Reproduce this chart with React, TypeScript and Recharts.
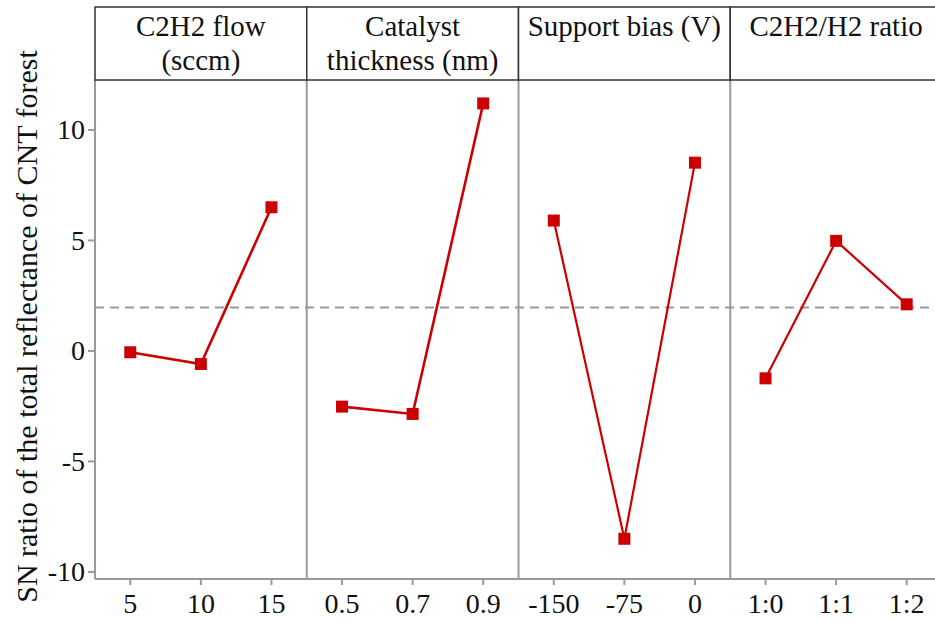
import React from 'react';
import { LineChart, Line, XAxis, YAxis, ReferenceLine } from 'recharts';

// ---- data ----
const factorTitles: string[][] = [
  ['C2H2 flow', '(sccm)'],
  ['Catalyst', 'thickness (nm)'],
  ['Support bias (V)'],
  ['C2H2/H2 ratio'],
];
const c2h2Levels = ['5', '10', '15'];
const c2h2SN = [-0.06, -0.59, 6.5];
const catalystLevels = ['0.5', '0.7', '0.9'];
const catalystSN = [-2.52, -2.85, 11.2];
const biasLevels = ['-150', '-75', '0'];
const biasSN = [5.9, -8.5, 8.52];
const ratioLevels = ['1:0', '1:1', '1:2'];
const ratioSN = [-1.24, 4.98, 2.11];
const yTicks = [-10, -5, 0, 5, 10];
const grandMean = 1.96;

// ---- layout ----
const CHART_W = 950;
const CHART_H = 621;
const MARGIN = { top: 7, right: 8, bottom: 0, left: 0 };
const Y_AXIS_W = 95;
const HEADER_H = 73;
const BOTTOM_AXIS_H = 42;
const PLOT_W = CHART_W - MARGIN.left - MARGIN.right - Y_AXIS_W;
const RED = '#cc0000';
const GRID = '#999999';
const FONT = "'Liberation Serif', 'DejaVu Serif', serif";

const levelGroups = [c2h2Levels, catalystLevels, biasLevels, ratioLevels];
const valueGroups = [c2h2SN, catalystSN, biasSN, ratioSN];
const tickLabels: string[] = levelGroups.flat();
const xTicks = tickLabels.map((_, i) => i);
const perPanel = 3;
const panelCenters = factorTitles.map((_, p) => p * perPanel + (perPanel - 1) / 2);
const panelDividers = factorTitles.slice(1).map((_, p) => (p + 1) * perPanel - 0.5);
const xDomain: [number, number] = [-0.5, tickLabels.length - 0.5];

const data = tickLabels.map((_, i) => {
  const row: Record<string, number | null> = { idx: i };
  valueGroups.forEach((vals, p) => {
    const local = i - p * perPanel;
    row['s' + p] = local >= 0 && local < perPanel ? vals[local] : null;
  });
  return row;
});

const SquareDot = (props: any) => {
  const { cx, cy, value, index } = props;
  if (cx == null || cy == null || value == null) return <g key={'e' + index} />;
  return <rect key={'d' + index} x={cx - 6} y={cy - 6} width={12} height={12} fill={RED} />;
};

const HeaderTick = (props: any) => {
  const { x, y, payload } = props;
  const p = panelCenters.indexOf(payload.value);
  const lines = p >= 0 ? factorTitles[p] : [];
  const half = (PLOT_W / tickLabels.length) * perPanel / 2;
  return (
    <g>
      <rect x={x - half} y={y - HEADER_H} width={half * 2} height={HEADER_H} fill="#fff" stroke="#333" strokeWidth={1.5} />
      {lines.map((t, k) => (
        <text key={k} x={x} y={y - HEADER_H + 29 + k * 34} textAnchor="middle" fontSize={29} fontFamily={FONT} style={{ fontFamily: FONT }} fill="#111">
          {t}
        </text>
      ))}
    </g>
  );
};

const AxisTick = (props: any) => {
  const { x, y, payload, textAnchor, formatter } = props;
  const label = formatter ? formatter(payload.value) : String(payload.value);
  return (
    <text x={x} y={y} textAnchor={textAnchor} dominantBaseline={props.vertical ? 'central' : 'hanging'} fontSize={28} fontFamily={FONT} style={{ fontFamily: FONT }} fill="#111">
      {label}
    </text>
  );
};

const YLabel = (props: any) => {
  const vb = props.viewBox || { x: 0, y: 0, width: 0, height: 0 };
  const cx = vb.x + 26;
  const cy = vb.y + vb.height / 2 - 3;
  return (
    <text x={cx} y={cy} transform={`rotate(-90 ${cx} ${cy})`} textAnchor="middle" dominantBaseline="central" fontSize={30} fontFamily={FONT} style={{ fontFamily: FONT }} fill="#111">
      SN ratio of the total reflectance of CNT forest
    </text>
  );
};

const fmtX = (v: number) => tickLabels[v];

export default function App() {
  return (
    <div style={{ position: 'absolute', left: 0, top: 0, width: 935, height: 621, overflow: 'hidden', background: '#fff', fontFamily: FONT }}>
      <LineChart width={CHART_W} height={CHART_H} data={data} margin={MARGIN} style={{ fontFamily: FONT }}>
        <XAxis
          xAxisId="top"
          orientation="top"
          type="number"
          dataKey="idx"
          domain={xDomain}
          ticks={panelCenters}
          height={HEADER_H}
          tickSize={0}
          tickMargin={0}
          axisLine={false}
          tickLine={false}
          tick={<HeaderTick />}
          interval={0}
        />
        <XAxis
          xAxisId="bottom"
          orientation="bottom"
          type="number"
          dataKey="idx"
          domain={xDomain}
          ticks={xTicks}
          interval={0}
          height={BOTTOM_AXIS_H}
          stroke={GRID}
          strokeWidth={2}
          tickSize={6}
          tickMargin={8}
          tick={<AxisTick formatter={fmtX} />}
        />
        <YAxis
          type="number"
          domain={[-10.32, 12.26]}
          ticks={yTicks}
          allowDataOverflow
          width={Y_AXIS_W}
          stroke={GRID}
          strokeWidth={2}
          tickSize={7}
          tickMargin={3}
          tick={<AxisTick vertical />}
          label={<YLabel />}
        />
        {panelDividers.map((d) => (
          <ReferenceLine key={d} xAxisId="bottom" x={d} stroke={GRID} strokeWidth={2} />
        ))}
        <ReferenceLine xAxisId="bottom" y={grandMean} stroke={GRID} strokeWidth={2} strokeDasharray="9 6" />
        {valueGroups.map((_, p) => (
          <Line
            key={p}
            xAxisId="bottom"
            dataKey={'s' + p}
            stroke={RED}
            strokeWidth={p < 2 ? 2.6 : 2.2}
            dot={SquareDot}
            activeDot={false}
            isAnimationActive={false}
            connectNulls={false}
          />
        ))}
      </LineChart>
    </div>
  );
}
